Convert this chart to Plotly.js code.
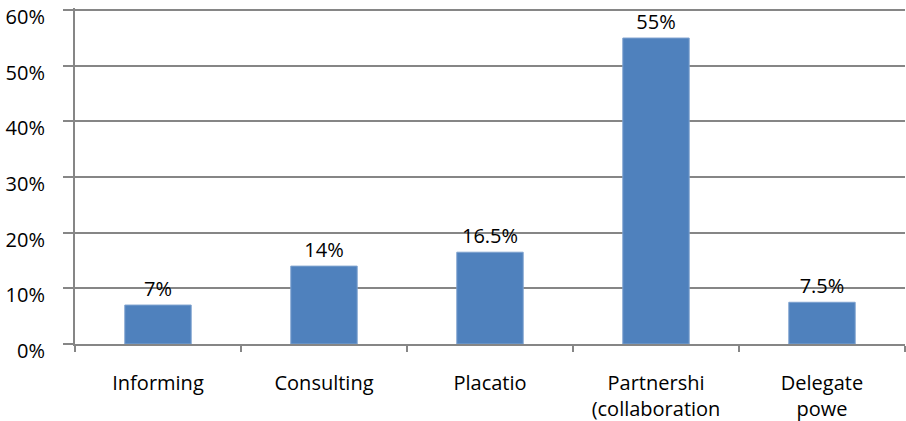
<!DOCTYPE html>
<html><head><meta charset="utf-8">
<script src="https://cdn.plot.ly/plotly-3.0.1.min.js"></script>
<style>html,body{margin:0;padding:0;background:#fff}#c{width:906px;height:421px}</style>
</head><body><div id="c"></div>
<script>
const categories = ["Informing", "Consulting", "Placatio", "Partnershi<br>(collaboration", "Delegate<br>powe"];
const values = [0.07, 0.14, 0.165, 0.55, 0.075];
const labels = ["7%", "14%", "16.5%", "55%", "7.5%"];
const yTicks = [0, 0.1, 0.2, 0.3, 0.4, 0.5, 0.6];
const yTickText = ["0%", "10%", "20%", "30%", "40%", "50%", "60%"];

const font = {family: "Open Sans", size: 20, color: "#000"};
Plotly.newPlot("c", [{
  type: "bar", x: categories, y: values, text: labels,
  textposition: "outside", cliponaxis: false,
  textfont: font,
  marker: {color: "#4F81BD", line: {color: "#7EA2CF", width: 1}},
  hoverinfo: "none"
}], {
  width: 906, height: 421,
  margin: {l: 75, r: 1, t: 8, b: 77},
  bargap: 0.6,
  showlegend: false,
  paper_bgcolor: "#fff", plot_bgcolor: "#fff",
  font: font,
  xaxis: {
    type: "category", tickson: "boundaries", ticks: "outside", ticklen: 6, tickwidth: 2,
    tickcolor: "#868686", showline: true, linecolor: "#868686", linewidth: 2,
    showgrid: false, tickfont: font, ticklabelstandoff: 20, range: [-0.5, 4.5]
  },
  yaxis: {
    range: [0, 0.604], tickvals: yTicks, ticktext: yTickText,
    ticks: "outside", ticklen: 10, tickwidth: 2, tickcolor: "#868686",
    showline: true, linecolor: "#868686", linewidth: 2,
    showgrid: true, gridcolor: "#868686", gridwidth: 2, zeroline: false,
    tickfont: font, ticklabelstandoff: 14, ticklabelshift: 7, ticklabeloverflow: "allow"
  }
}, {staticPlot: true});
</script></body></html>
